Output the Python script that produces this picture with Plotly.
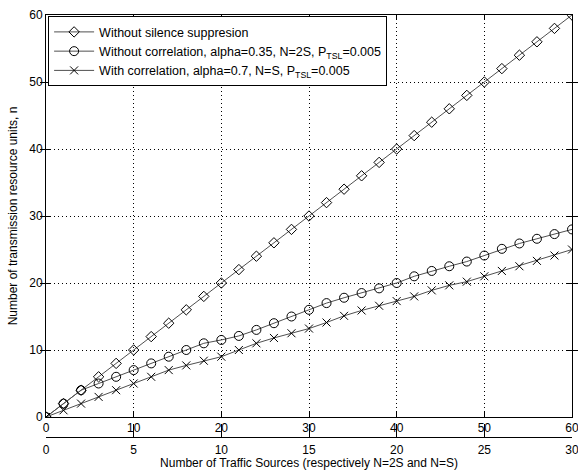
import plotly.graph_objects as go

# Number of traffic sources on the primary (N) scale, step 2
sources_n = [0, 2, 4, 6, 8, 10, 12, 14, 16, 18, 20, 22, 24, 26, 28, 30,
             32, 34, 36, 38, 40, 42, 44, 46, 48, 50, 52, 54, 56, 58, 60]

# Required transmission resource units per scenario
no_suppression = [0, 2, 4, 6, 8, 10, 12, 14, 16, 18, 20, 22, 24, 26, 28, 30,
                  32, 34, 36, 38, 40, 42, 44, 46, 48, 50, 52, 54, 56, 58, 60]
no_correlation = [0, 2, 4, 5, 6, 7, 8, 9, 10, 11, 11.5, 12.1, 13, 14, 15, 16,
                  17, 17.8, 18.5, 19.2, 20, 21, 21.8, 22.5, 23.2, 24.1, 25.1,
                  25.9, 26.6, 27.3, 28]
with_correlation = [0, 1, 2, 3, 4, 5, 6, 7, 7.7, 8.4, 9, 10, 11, 11.8, 12.5,
                    13.2, 14.1, 15.1, 15.9, 16.6, 17.3, 18, 18.9, 19.65, 20.2,
                    21, 21.8, 22.5, 23.3, 24.1, 25]

series_names = [
    "Without silence suppresion",
    "Without correlation, alpha=0.35, N=2S, P<sub>TSL</sub>=0.005",
    "With correlation, alpha=0.7, N=S, P<sub>TSL</sub>=0.005",
]
series_symbols = ["diamond-open", "circle-open", "x-thin-open"]
series_sizes = [8, 9, 8]

primary_ticks = [0, 10, 20, 30, 40, 50, 60]
secondary_ticks = [0, 5, 10, 15, 20, 25, 30]
y_ticks = [0, 10, 20, 30, 40, 50, 60]

FONT = "Liberation Sans, Arial, sans-serif"
GRID_DASH = "1px,3px"

fig = go.Figure()
for name, ys, sym, sz in zip(series_names,
                             [no_suppression, no_correlation, with_correlation],
                             series_symbols, series_sizes):
    fig.add_trace(go.Scatter(
        x=sources_n, y=ys, name=name, mode="lines+markers",
        line=dict(color="#505050", width=1),
        marker=dict(symbol=sym, size=sz, color="black",
                    line=dict(color="black", width=1)),
    ))

# Empty trace so the secondary (S) axis is rendered
fig.add_trace(go.Scatter(x=[None], y=[None], xaxis="x2", yaxis="y",
                         showlegend=False, hoverinfo="skip"))

W, H = 578, 470
top, plot_bottom, sec_axis = 15, 417, 437
paper_h = sec_axis - top
y_dom0 = (sec_axis - plot_bottom) / paper_h

axis_common = dict(
    showline=True, linecolor="black", linewidth=1,
    ticks="inside", tickcolor="black", ticklen=5,
    tickfont=dict(family=FONT, size=12, color="black"),
    zeroline=False, automargin=False, ticklabeloverflow="allow",
)

fig.update_layout(
    width=W, height=H,
    margin=dict(l=46, r=6, t=top, b=H - sec_axis),
    paper_bgcolor="white", plot_bgcolor="white",
    font=dict(family=FONT, size=12, color="black"),
    xaxis=dict(
        range=[0, 60], tickvals=primary_ticks, mirror="allticks",
        showgrid=True, gridcolor="black", griddash=GRID_DASH, gridwidth=1,
        anchor="y", ticklabelstandoff=0, **axis_common,
    ),
    xaxis2=dict(
        range=[0, 30], tickvals=secondary_ticks, overlaying="x",
        anchor="free", position=0, side="bottom", showgrid=False,
        ticklabelstandoff=2,
        title=dict(text="Number of Traffic Sources (respectively N=2S and N=S)",
                   font=dict(family=FONT, size=12, color="black"), standoff=4),
        **{**axis_common, "ticklen": 13},
    ),
    yaxis=dict(
        range=[0, 60], tickvals=y_ticks, mirror="allticks",
        domain=[y_dom0, 1],
        showgrid=True, gridcolor="black", griddash=GRID_DASH, gridwidth=1,
        title=dict(text="Number of transmission resource units, n",
                   font=dict(family=FONT, size=12, color="black"), standoff=9),
        **axis_common,
    ),
    legend=dict(
        x=0.004, y=0.997, xanchor="left", yanchor="top",
        bgcolor="white", bordercolor="black", borderwidth=1,
        font=dict(family=FONT, size=12.5, color="black"),
        itemwidth=40, tracegroupgap=0,
    ),
    showlegend=True,
)

fig.write_html("out.html")
